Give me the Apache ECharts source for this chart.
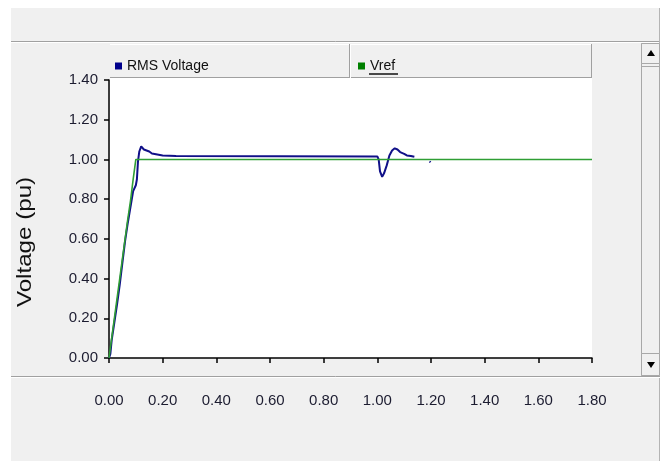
<!DOCTYPE html>
<html>
<head>
<meta charset="utf-8">
<script src="https://cdn.jsdelivr.net/npm/echarts@6/dist/echarts.min.js"></script>
<style>
html,body{margin:0;padding:0;background:#ffffff;}
#chart{width:667px;height:461px;}
</style>
</head>
<body>
<div id="chart"></div>
<script>
var seriesNames = ['RMS Voltage', 'Vref'];
var axisTitle = 'Voltage (pu)';
var xTicks = [0, 0.2, 0.4, 0.6, 0.8, 1.0, 1.2, 1.4, 1.6, 1.8];
var yTicks = [0, 0.2, 0.4, 0.6, 0.8, 1.0, 1.2, 1.4];

var rmsTime = [0, 0.005, 0.01, 0.02, 0.03, 0.04, 0.05, 0.06, 0.07, 0.08, 0.085, 0.09, 0.1, 0.104, 0.108, 0.113, 0.12, 0.125, 0.13, 0.14, 0.15, 0.16, 0.18, 0.2, 0.25, 1.0, 1.005, 1.01, 1.018, 1.025, 1.035, 1.045, 1.055, 1.065, 1.075, 1.085, 1.1, 1.11, 1.125, 1.138, null, 1.195, 1.198];
var rmsVolt = [0, 0.02, 0.09, 0.18, 0.27, 0.37, 0.48, 0.59, 0.68, 0.76, 0.8, 0.84, 0.87, 0.9, 0.99, 1.04, 1.066, 1.06, 1.05, 1.045, 1.04, 1.03, 1.025, 1.02, 1.017, 1.015, 1.0, 0.94, 0.912, 0.93, 0.97, 1.02, 1.045, 1.056, 1.05, 1.037, 1.028, 1.02, 1.017, 1.013, null, 0.99, 0.985];

var refTime = [0, 0.01, 0.02, 0.03, 0.04, 0.05, 0.06, 0.07, 0.08, 0.09, 0.1, 1.8];
var refVolt = [0, 0.1, 0.2, 0.3, 0.4, 0.5, 0.6, 0.7, 0.79, 0.9, 1.0, 1.0];

function pairs(xs, ys) {
  return xs.map(function (x, i) { return x === null ? [null, null] : [x, ys[i]]; });
}

var FONT = '"Liberation Sans", Arial, sans-serif';
var labelColor = '#1c1c30';

var chart = echarts.init(document.getElementById('chart'), null, {renderer: 'canvas'});
var option = {
  animation: false,
  backgroundColor: '#ffffff',
  grid: {left: 109, top: 80, width: 483, height: 278, containLabel: false},
  legend: [
    {data: [seriesNames[0]], left: 110, top: 54, icon: 'rect', itemWidth: 7, itemHeight: 7, itemGap: 0,
     textStyle: {fontFamily: FONT, fontSize: 14, color: '#111111', padding: [0, 0, 0, 0]}},
    {data: [seriesNames[1]], left: 353, top: 54, icon: 'rect', itemWidth: 7, itemHeight: 7, itemGap: 0,
     textStyle: {fontFamily: FONT, fontSize: 14, color: '#111111', padding: [0, 0, 0, 0]}}
  ],
  xAxis: {
    type: 'value', min: 0, max: 1.8, interval: 0.2, offset: 23,
    axisLine: {show: true, lineStyle: {color: '#000000', width: 1.5}},
    axisTick: {show: true, inside: false, length: 5, lineStyle: {color: '#000000', width: 1.5}},
    axisLabel: {margin: 12, fontFamily: FONT, fontSize: 15, color: labelColor,
      formatter: function (v) { return v.toFixed(2); }},
    splitLine: {show: false}
  },
  yAxis: {
    type: 'value', min: 0, max: 1.4, interval: 0.2,
    axisLine: {show: true, lineStyle: {color: '#000000', width: 1.5}},
    axisTick: {show: true, inside: false, length: 5, lineStyle: {color: '#000000', width: 1.5}},
    axisLabel: {margin: 11, fontFamily: FONT, fontSize: 15, color: labelColor,
      formatter: function (v) { return v.toFixed(2); }},
    splitLine: {show: false}
  },
  series: [
    {name: seriesNames[1], type: 'line', data: pairs(refTime, refVolt), showSymbol: false, symbol: 'none',
     itemStyle: {color: '#008000'}, lineStyle: {color: '#2f9e34', width: 1.6}, z: 4},
    {name: seriesNames[0], type: 'line', data: pairs(rmsTime, rmsVolt), showSymbol: false, symbol: 'none',
     connectNulls: false,
     itemStyle: {color: '#00008b'}, lineStyle: {color: '#101088', width: 2}, z: 3}
  ],
  graphic: [
    {type: 'rect', z: -100, silent: true, shape: {x: 11, y: 8, width: 649, height: 453}, style: {fill: '#f0f0f0'}},
    {type: 'line', z: -90, silent: true, shape: {x1: 11, y1: 41.5, x2: 660, y2: 41.5}, style: {stroke: '#a0a0a0', lineWidth: 1}},
    {type: 'line', z: -90, silent: true, shape: {x1: 11, y1: 42.5, x2: 660, y2: 42.5}, style: {stroke: '#ffffff', lineWidth: 1}},
    {type: 'line', z: -90, silent: true, shape: {x1: 659.5, y1: 8, x2: 659.5, y2: 461}, style: {stroke: '#b4b4b4', lineWidth: 1}},
    // y axis title
    {type: 'text', z: 10, silent: true, x: 25, y: 242, rotation: Math.PI / 2, scaleX: 1.15,
     style: {text: axisTitle, fontFamily: FONT, fontSize: 21, fill: '#111111', align: 'center', verticalAlign: 'middle'}},
    // legend header box
    {type: 'line', z: -80, silent: true, shape: {x1: 110, y1: 44.5, x2: 592, y2: 44.5}, style: {stroke: '#ffffff', lineWidth: 1}},
    {type: 'line', z: -80, silent: true, shape: {x1: 110, y1: 77.5, x2: 592, y2: 77.5}, style: {stroke: '#a0a0a0', lineWidth: 1}},
    {type: 'line', z: -80, silent: true, shape: {x1: 591.5, y1: 44, x2: 591.5, y2: 78}, style: {stroke: '#a0a0a0', lineWidth: 1}},
    {type: 'line', z: -80, silent: true, shape: {x1: 349.5, y1: 44, x2: 349.5, y2: 78}, style: {stroke: '#a0a0a0', lineWidth: 1}},
    {type: 'line', z: -80, silent: true, shape: {x1: 350.5, y1: 44, x2: 350.5, y2: 78}, style: {stroke: '#ffffff', lineWidth: 1}},
    {type: 'line', z: -80, silent: true, shape: {x1: 369, y1: 74, x2: 398, y2: 74}, style: {stroke: '#111111', lineWidth: 1.5}},
    // plot area
    {type: 'rect', z: -80, silent: true, shape: {x: 110, y: 78, width: 482, height: 280}, style: {fill: '#ffffff'}},
    // scrollbar
    {type: 'rect', z: -80, silent: true, shape: {x: 641.5, y: 43.5, width: 18, height: 332}, style: {fill: '#f0f0f0', stroke: '#a8a8a8', lineWidth: 1}},
    {type: 'rect', z: -79, silent: true, shape: {x: 641.5, y: 43.5, width: 18, height: 20}, style: {fill: '#f0f0f0', stroke: '#a8a8a8', lineWidth: 1}},
    {type: 'line', z: -79, silent: true, shape: {x1: 642, y1: 66.5, x2: 659, y2: 66.5}, style: {stroke: '#a8a8a8', lineWidth: 1}},
    {type: 'polygon', z: -78, silent: true, shape: {points: [[647, 56], [655, 56], [651, 50]]}, style: {fill: '#000000'}},
    {type: 'rect', z: -79, silent: true, shape: {x: 641.5, y: 353.5, width: 18, height: 22}, style: {fill: '#f0f0f0', stroke: '#a8a8a8', lineWidth: 1}},
    {type: 'polygon', z: -78, silent: true, shape: {points: [[647, 362], [655, 362], [651, 368]]}, style: {fill: '#000000'}},
    // bottom separator
    {type: 'line', z: -80, silent: true, shape: {x1: 11, y1: 376.5, x2: 660, y2: 376.5}, style: {stroke: '#a0a0a0', lineWidth: 1}},
    {type: 'line', z: -80, silent: true, shape: {x1: 11, y1: 377.5, x2: 660, y2: 377.5}, style: {stroke: '#ffffff', lineWidth: 1}}
  ]
};
chart.setOption(option);
</script>
</body>
</html>
